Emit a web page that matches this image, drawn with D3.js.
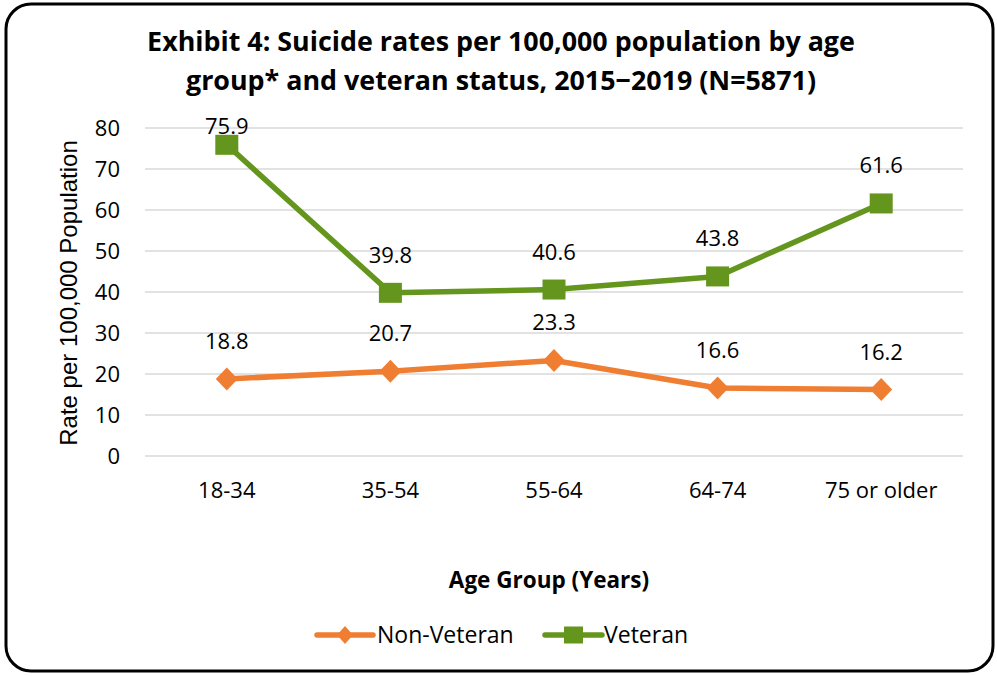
<!DOCTYPE html>
<html>
<head>
<meta charset="utf-8">
<script src="https://cdn.jsdelivr.net/npm/d3@7"></script>
<style>
  html, body { margin: 0; padding: 0; background: #fff; }
  svg { display: block; font-family: "Open Sans", sans-serif; }
</style>
</head>
<body>
<svg id="chart" width="997" height="676"></svg>
<script>
// Age groups and suicide rates per 100,000 population
const categories = ["18-34", "35-54", "55-64", "64-74", "75 or older"];
const nonVeteran = [18.8, 20.7, 23.3, 16.6, 16.2];
const veteran = [75.9, 39.8, 40.6, 43.8, 61.6];
const yTicks = [0, 10, 20, 30, 40, 50, 60, 70, 80];
const titleLines = [
  "Exhibit 4: Suicide rates per 100,000 population by age",
  "group* and veteran status, 2015\u22122019 (N=5871)"
];

const series = [
  { name: "Non-Veteran", values: nonVeteran, color: "#EF7E33", marker: "diamond" },
  { name: "Veteran", values: veteran, color: "#64961E", marker: "square" }
];

const FONT = "'Open Sans', sans-serif";
const svg = d3.select("#chart");

// outer rounded frame
svg.append("rect")
  .attr("x", 6).attr("y", 4).attr("width", 987).attr("height", 667)
  .attr("rx", 25).attr("ry", 25)
  .attr("fill", "#fff").attr("stroke", "#000").attr("stroke-width", 3);

const plot = { left: 145, right: 963, top: 128, bottom: 456 };

const x = d3.scaleBand().domain(categories).range([plot.left, plot.right]);
const y = d3.scaleLinear().domain([0, 80]).range([plot.bottom, plot.top]);

// title, sized so the first line spans the chart width
const title = svg.append("text")
  .attr("text-anchor", "middle")
  .attr("font-weight", "bold").attr("font-size", 20)
  .attr("font-family", FONT);
title.selectAll("tspan").data(titleLines).join("tspan")
  .attr("x", 501).attr("y", (d, i) => 51 + i * 39)
  .text(d => d);
const firstLen = title.select("tspan").node().getComputedTextLength();
title.attr("font-size", 20 * 708 / firstLen);

// horizontal gridlines
svg.append("g")
  .selectAll("line").data(yTicks).join("line")
  .attr("x1", plot.left).attr("x2", plot.right)
  .attr("y1", d => y(d)).attr("y2", d => y(d))
  .attr("stroke", "#d9d9d9").attr("stroke-width", 1.5);

// y axis labels
const yAxis = d3.axisLeft(y).tickValues(yTicks).tickSize(0).tickPadding(0);
const gy = svg.append("g").attr("transform", `translate(${plot.left - 25},0)`).call(yAxis);
gy.select(".domain").remove();
gy.selectAll("text")
  .attr("font-family", FONT)
  .attr("font-size", 22).attr("fill", "#000");

// x axis labels
const xAxis = d3.axisBottom(x).tickSize(0).tickPadding(0);
const gx = svg.append("g").attr("transform", `translate(0,${plot.bottom + 26})`).call(xAxis);
gx.select(".domain").remove();
gx.selectAll("text")
  .attr("font-family", FONT)
  .attr("font-size", 22).attr("fill", "#000");

// axis titles
svg.append("text")
  .attr("transform", `translate(77,293) rotate(-90)`)
  .attr("text-anchor", "middle")
  .attr("font-family", "'Liberation Sans', Arial, sans-serif")
  .attr("font-size", 24)
  .text("Rate per 100,000 Population");

svg.append("text")
  .attr("x", 549).attr("y", 588)
  .attr("text-anchor", "middle")
  .attr("font-family", FONT)
  .attr("font-weight", "bold").attr("font-size", 22.5)
  .text("Age Group (Years)");

const cx = d => x(d) + x.bandwidth() / 2;

function drawMarker(g, type, color, w, h) {
  if (type === "square") {
    g.append("rect")
      .attr("x", -w / 2).attr("y", -h / 2)
      .attr("width", w).attr("height", h)
      .attr("fill", color);
  } else {
    const a = w / 2, b = h / 2;
    g.append("path")
      .attr("d", `M0,${-b}L${a},0L0,${b}L${-a},0Z`)
      .attr("fill", color);
  }
}

const line = d3.line().x(d => cx(d.cat)).y(d => y(d.v));

series.forEach(s => {
  const pts = categories.map((c, i) => ({ cat: c, v: s.values[i] }));
  svg.append("path")
    .datum(pts)
    .attr("d", line)
    .attr("fill", "none")
    .attr("stroke", s.color)
    .attr("stroke-width", 5.5)
    .attr("stroke-linejoin", "round");

  const mk = svg.append("g").selectAll("g").data(pts).join("g")
    .attr("transform", d => `translate(${cx(d.cat)},${y(d.v)})`);
  mk.each(function () {
    if (s.marker === "square") drawMarker(d3.select(this), "square", s.color, 23, 20);
    else drawMarker(d3.select(this), "diamond", s.color, 22, 23);
  });

  // value labels above each point
  svg.append("g").selectAll("text").data(pts).join("text")
    .attr("x", d => cx(d.cat))
    .attr("y", d => Math.max(y(d.v) - 30, 134))
    .attr("text-anchor", "middle")
    .attr("font-family", FONT)
    .attr("font-size", 22)
    .text(d => d.v.toFixed(1));
});

// legend
const legend = [
  { s: series[0], x0: 317, x1: 373, tx: 377 },
  { s: series[1], x0: 545, x1: 602, tx: 604 }
];
legend.forEach(l => {
  const g = svg.append("g").attr("transform", `translate(0,635)`);
  g.append("line").attr("x1", l.x0).attr("x2", l.x1).attr("y1", 0).attr("y2", 0)
    .attr("stroke", l.s.color).attr("stroke-width", 5.5).attr("stroke-linecap", "round");
  const m = g.append("g").attr("transform", `translate(${(l.x0 + l.x1) / 2},0)`);
  if (l.s.marker === "square") drawMarker(m, "square", l.s.color, 19, 17);
  else drawMarker(m, "diamond", l.s.color, 16, 18);
  svg.append("text")
    .attr("x", l.tx).attr("y", 643)
    .attr("font-family", FONT)
    .attr("font-size", 23)
    .text(l.s.name);
});
</script>
</body>
</html>
